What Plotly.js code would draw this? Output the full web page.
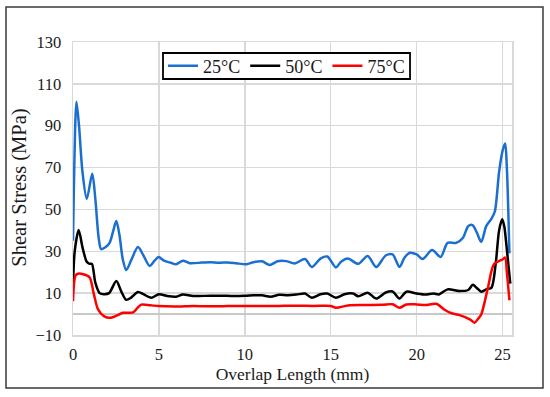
<!DOCTYPE html>
<html>
<head>
<meta charset="utf-8">
<script src="https://cdn.plot.ly/plotly-3.0.1.min.js"></script>
<style>html,body{margin:0;padding:0;background:#fff;}#chart{width:550px;height:397px;}</style>
</head>
<body>
<div id="chart"></div>
<script>
// Overlap length (mm) and shear stress (MPa)
const x25 = [0.0,0.05,0.2,0.35,0.55,0.8,1.12,1.3,1.5,1.64,1.9,2.13,2.35,2.52,2.7,2.9,3.1,3.4,3.78,4.1,4.46,4.75,4.98,5.3,5.7,6.0,6.4,6.8,7.5,8.0,8.5,9.0,9.5,10.1,10.5,11.0,11.45,11.9,12.4,12.9,13.5,13.9,14.4,14.8,15.3,15.6,16.0,16.6,17.15,17.65,18.2,18.6,19.0,19.3,19.6,20.0,20.35,20.9,21.4,21.8,22.3,22.7,23.0,23.25,23.5,23.76,24.05,24.35,24.55,24.8,25.0,25.15,25.25,25.4];
const y25 = [35,60,101.5,90,68,55,67,55,36,31,32,34,40,44.5,38,26,21,26,32,28,23,25.5,27.3,25.5,24.5,23.8,25.5,24.3,24.6,24.8,24.5,24.7,24.3,23.8,24.8,25.2,23.4,25.2,25.3,24.2,26.3,22.5,26.5,27.5,22.3,25,26.5,24,27.8,22.5,28,28.5,22.5,27,29.3,28.5,26.3,30.6,27.3,34,34,36.5,42,42.5,39,34.5,42,45.5,49,68,78,81.5,70,29];

const x50 = [0,0.1,0.33,0.55,0.8,0.97,1.1,1.3,1.55,1.8,2.1,2.52,2.8,3.1,3.4,3.78,4.1,4.55,5.0,5.5,6,6.4,7,8,9,10,10.5,11,11.5,12,12.5,13,13.5,13.9,14.4,14.8,15.3,15.8,16.3,16.6,17.15,17.65,18.2,18.6,19.0,19.4,20.0,20.5,21,21.3,21.8,22.5,23,23.27,23.5,23.76,24.1,24.35,24.6,24.8,24.98,25.1,25.2,25.45];
const y50 = [13,30,40.2,32,25,24,24,15,10,9.5,10,15.8,11,6.8,8,10.5,9.5,7.8,9.5,8.6,8.3,9.4,8.6,8.8,8.7,8.7,9,9,8.3,9.2,9,9.3,9.8,7.8,9.5,9.8,7.8,9.5,9.8,8.5,10.2,7.4,10.3,10.8,7.5,10.7,9.8,9.3,9.8,9.4,11.8,11,11.5,14,12.5,10.7,12,12.5,24,40,45.3,42,35,14.5];

const x75 = [0,0.15,0.3,0.6,0.97,1.2,1.45,1.8,2.2,2.6,2.9,3.5,3.75,3.97,4.5,5,6,7,8,9,10,11,12,13,14,15,15.3,16,17,18,18.6,19,19.4,20,20.5,21.15,21.6,22,22.5,23.1,23.37,23.6,23.76,24.15,24.5,25.02,25.15,25.25,25.4];
const y75 = [6.2,18.5,19.3,19,17.5,10,2.4,-1,-1.8,-0.5,0.6,0.8,3,4.5,4.2,3.8,3.6,3.9,3.7,3.8,3.9,3.8,3.9,4,3.9,3.9,3,4.1,4.3,4.4,4.7,3,4.6,4.6,4.3,4.9,2.2,0.5,-0.5,-2.5,-4.1,-2,-0.2,12.6,23.8,26.2,27,20,6.6];

const seriesNames = ['25°C','50°C','75°C'];
const seriesColors = ['#1a6fd0','#000000','#ff0000'];
const xTitle = 'Overlap Length (mm)';
const yTitle = 'Shear Stress (MPa)';

const font = '"Times New Roman", Times, "Liberation Serif", "DejaVu Serif", serif';
const mk = (x,y,i) => ({x:x,y:y,name:seriesNames[i],type:'scatter',mode:'lines',
  line:{color:seriesColors[i],width:2.5,shape:'spline',smoothing:0.8}});

const data = [mk(x25,y25,0),mk(x50,y50,1),mk(x75,y75,2)];

const layout = {
  width:550,height:397,
  margin:{l:73,r:38,t:42,b:62},
  paper_bgcolor:'#fff',plot_bgcolor:'#fff',
  font:{family:font,size:16,color:'#1a1a1a'},
  showlegend:true,
  legend:{orientation:'h',x:0.205,y:0.918,xanchor:'left',yanchor:'middle',
    bgcolor:'rgba(0,0,0,0)',borderwidth:0,
    font:{family:font,size:18,color:'#1a1a1a'},itemwidth:30,tracegroupgap:0},
  xaxis:{range:[0,25.55],tick0:0,dtick:5,showgrid:true,gridcolor:'#d9d9d9',gridwidth:1.5,
    showline:true,mirror:true,linecolor:'#d9d9d9',linewidth:1.5,zeroline:false,ticks:'',
    ticklabelstandoff:4,tickfont:{family:font,size:16.5},
    title:{text:xTitle,font:{family:font,size:17.5},standoff:4}},
  yaxis:{range:[-10,130],tick0:-10,dtick:20,showgrid:true,gridcolor:'#d9d9d9',gridwidth:1.5,
    showline:true,mirror:true,linecolor:'#d9d9d9',linewidth:1.5,
    zeroline:true,zerolinecolor:'#c8c8c8',zerolinewidth:1.5,ticks:'',
    ticklabelstandoff:7,tickfont:{family:font,size:16.5}},
  annotations:[{text:yTitle,xref:'paper',yref:'paper',x:-0.1207,y:0.503,
    xanchor:'center',yanchor:'middle',textangle:-90,showarrow:false,
    font:{family:font,size:20.5,color:'#1a1a1a'}}],
  shapes:[
    {type:'rect',xref:'paper',yref:'paper',x0:-0.1526,x1:1.0706,y0:-0.1809,y1:1.1195,
      line:{color:'#3a3a3a',width:1.5},fillcolor:'rgba(0,0,0,0)',layer:'below'},
    {type:'rect',xref:'paper',yref:'paper',x0:0.2050,x1:0.7677,y0:0.8737,y1:0.9625,
      line:{color:'#000',width:1.8},fillcolor:'#fff',layer:'above'}
  ]
};

Plotly.newPlot('chart',data,layout,{displayModeBar:false,staticPlot:true});
</script>
</body>
</html>
